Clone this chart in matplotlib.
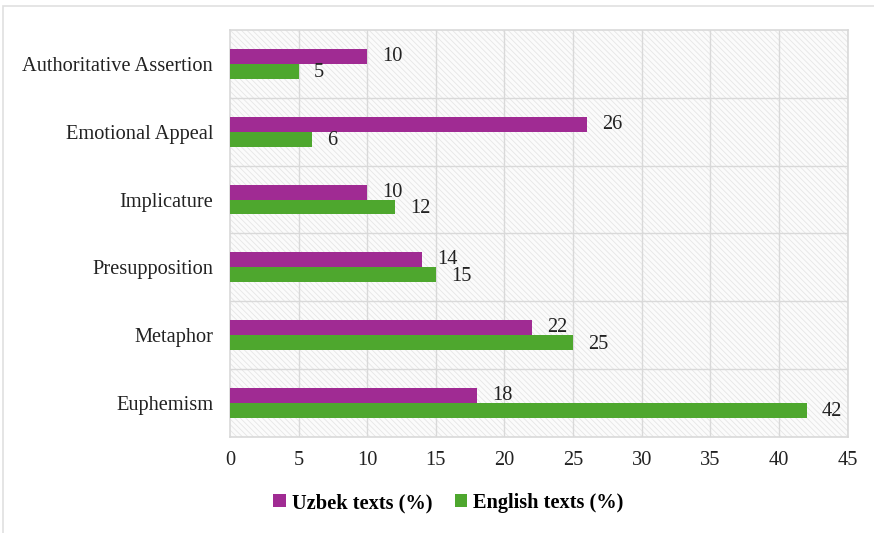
import matplotlib
matplotlib.use("Agg")
import matplotlib.pyplot as plt
from matplotlib.patches import Rectangle
import numpy as np

categories = ["Euphemism", "Metaphor", "Presupposition", "Implicature", "Emotional Appeal", "Authoritative Assertion"]
uzbek = [18, 22, 14, 10, 26, 10]
english = [42, 25, 15, 12, 6, 5]
xticks = [0, 5, 10, 15, 20, 25, 30, 35, 40, 45]

plt.rcParams['font.family'] = ['Liberation Serif', 'DejaVu Serif']
plt.rcParams['hatch.color'] = '#e4e4e4'
plt.rcParams['hatch.linewidth'] = 0.6

FS = 14.7
fig = plt.figure(figsize=(8.74, 5.33), dpi=100)
# outer frame
fig.patches.append(Rectangle((0.004, -0.01), 1.2, 0.999, transform=fig.transFigure,
                             fill=False, edgecolor='#e0e0e0', linewidth=1.2))
ax = fig.add_axes([0.263, 0.180, 0.707, 0.764])
ax.set_facecolor('#fbfbfb')
ax.add_patch(Rectangle((0, 0), 1, 1, transform=ax.transAxes, facecolor='none',
                       hatch='\\\\\\\\\\\\', edgecolor='#e6e6e6', linewidth=0, zorder=0))

y = np.arange(len(categories))
h = 0.22
purple = '#a02b93'
green = '#4ea72e'
ax.barh(y + h/2, uzbek, height=h, color=purple, zorder=3, label='Uzbek texts (%)')
ax.barh(y - h/2, english, height=h, color=green, zorder=3, label='English texts (%)')
for i in range(len(categories)):
    ax.text(uzbek[i] + 1.1, y[i] + h/2, str(uzbek[i]), va='center', ha='left', fontsize=FS, color='#222222', zorder=4)
    ax.text(english[i] + 1.1, y[i] - h/2 - 0.02, str(english[i]), va='center', ha='left', fontsize=FS, color='#222222', zorder=4)

ax.set_xlim(0, 45)
ax.set_ylim(-0.5, len(categories) - 0.5)
ax.set_xticks(xticks)
ax.set_xticklabels([str(t) for t in xticks], fontsize=FS)
ax.set_yticks(y)
ax.set_yticklabels(categories, fontsize=FS)
ax.tick_params(length=0, pad=10, colors='#222222')
ax.tick_params(axis='y', pad=12)
for t in xticks[1:]:
    ax.axvline(t, color='#d9d9d9', linewidth=1.0, zorder=1)
for b in np.arange(0.5, len(categories) - 0.5, 1.0):
    ax.axhline(b, color='#d9d9d9', linewidth=1.0, zorder=1)
for s in ax.spines.values():
    s.set_color('#d9d9d9')
    s.set_linewidth(1.2)

leg = fig.legend(loc='center', bbox_to_anchor=(0.513, 0.056), ncol=2, frameon=False,
                 prop={'weight': 'bold', 'size': FS}, handlelength=0.6, handleheight=0.6,
                 columnspacing=1.1, handletextpad=0.3)
fig.savefig('out.png', dpi=100)
